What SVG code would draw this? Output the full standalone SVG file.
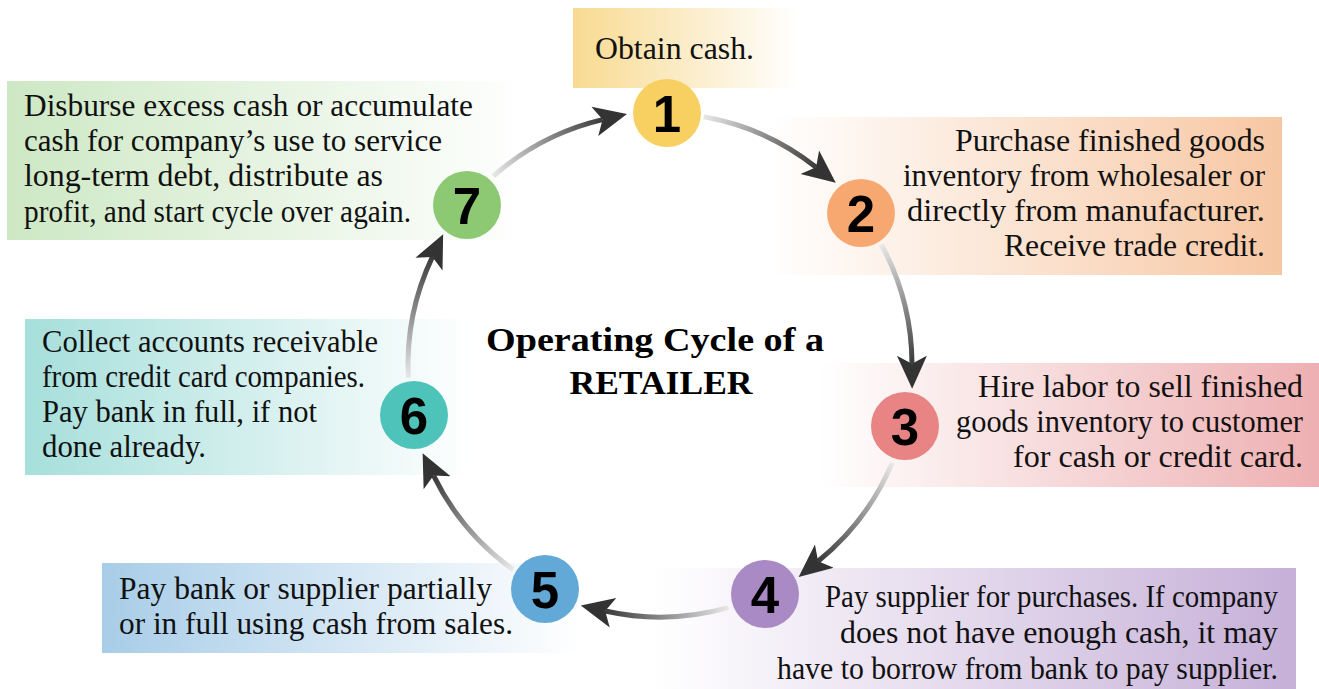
<svg xmlns="http://www.w3.org/2000/svg" width="1319" height="689" viewBox="0 0 1319 689">
<style>
.t{font-family:"Liberation Serif","Times New Roman",serif;font-size:31px;fill:#111}
.c{font-family:"Liberation Sans",Arial,sans-serif;font-size:51px;font-weight:bold;fill:#000;text-anchor:middle}
.ttl{font-family:"Liberation Serif","Times New Roman",serif;font-size:33px;font-weight:bold;fill:#000;text-anchor:middle}
.e{text-anchor:end}
.cn{fill:none;stroke-width:5}
</style>
<defs>
<linearGradient id="g1" x1="0" x2="1" y1="0" y2="0"><stop offset="0" stop-color="#F8DA91"/><stop offset="1" stop-color="#FFFFFF"/></linearGradient>
<linearGradient id="g2" x1="0" x2="1" y1="0" y2="0"><stop offset="0" stop-color="#FFFFFF"/><stop offset="1" stop-color="#F7C7A3"/></linearGradient>
<linearGradient id="g3" x1="0" x2="1" y1="0" y2="0"><stop offset="0" stop-color="#FFFFFF"/><stop offset="1" stop-color="#EEB0B2"/></linearGradient>
<linearGradient id="g4" x1="0" x2="1" y1="0" y2="0"><stop offset="0" stop-color="#FFFFFF"/><stop offset="1" stop-color="#C6B0D8"/></linearGradient>
<linearGradient id="g5" x1="0" x2="1" y1="0" y2="0"><stop offset="0" stop-color="#A8CDE8"/><stop offset="1" stop-color="#FFFFFF"/></linearGradient>
<linearGradient id="g6" x1="0" x2="1" y1="0" y2="0"><stop offset="0" stop-color="#A6DFDB"/><stop offset="1" stop-color="#FFFFFF"/></linearGradient>
<linearGradient id="g7" x1="0" x2="1" y1="0" y2="0"><stop offset="0" stop-color="#CDE8C4"/><stop offset="1" stop-color="#FFFFFF"/></linearGradient>
<linearGradient id="a1" gradientUnits="userSpaceOnUse" x1="703.8" y1="116.8" x2="816.1" y2="167.2"><stop offset="0" stop-color="#E8E8E8"/><stop offset="1" stop-color="#3A3A3A"/></linearGradient>
<linearGradient id="a2" gradientUnits="userSpaceOnUse" x1="881.3" y1="244.5" x2="912" y2="363.7"><stop offset="0" stop-color="#E8E8E8"/><stop offset="1" stop-color="#3A3A3A"/></linearGradient>
<linearGradient id="a3" gradientUnits="userSpaceOnUse" x1="892.2" y1="462.9" x2="818.1" y2="561.2"><stop offset="0" stop-color="#E8E8E8"/><stop offset="1" stop-color="#3A3A3A"/></linearGradient>
<linearGradient id="a4" gradientUnits="userSpaceOnUse" x1="728.2" y1="607.6" x2="605.2" y2="611"><stop offset="0" stop-color="#E8E8E8"/><stop offset="1" stop-color="#3A3A3A"/></linearGradient>
<linearGradient id="a5" gradientUnits="userSpaceOnUse" x1="512.9" y1="569.6" x2="433.6" y2="475.6"><stop offset="0" stop-color="#E8E8E8"/><stop offset="1" stop-color="#3A3A3A"/></linearGradient>
<linearGradient id="a6" gradientUnits="userSpaceOnUse" x1="408.3" y1="377.6" x2="432.4" y2="256.9"><stop offset="0" stop-color="#E8E8E8"/><stop offset="1" stop-color="#3A3A3A"/></linearGradient>
<linearGradient id="a7" gradientUnits="userSpaceOnUse" x1="493.3" y1="176.1" x2="602.6" y2="119.6"><stop offset="0" stop-color="#E8E8E8"/><stop offset="1" stop-color="#3A3A3A"/></linearGradient>
<marker id="ah" markerUnits="userSpaceOnUse" markerWidth="40" markerHeight="34" viewBox="0 -17 40 34" refX="8" refY="0" orient="auto">
<path d="M0,-15 L33,0 L0,15 L8,0 Z" fill="#333"/>
</marker>
</defs>
<rect width="1319" height="689" fill="#fff"/>

<g id="node1">
<rect x="573" y="8" width="225" height="80" fill="url(#g1)"/>
<text class="t" x="595" y="59" textLength="159" lengthAdjust="spacingAndGlyphs">Obtain cash.</text>
<circle cx="667" cy="113" r="34" fill="#F8D061"/>
<text class="c" x="667" y="131.5">1</text>
</g>

<g id="node2">
<rect x="768" y="117" width="514" height="158" fill="url(#g2)"/>
<text class="t e" x="1265" y="151" textLength="310" lengthAdjust="spacingAndGlyphs">Purchase finished goods</text>
<text class="t e" x="1265" y="186" textLength="362" lengthAdjust="spacingAndGlyphs">inventory from wholesaler or</text>
<text class="t e" x="1265" y="221" textLength="358" lengthAdjust="spacingAndGlyphs">directly from manufacturer.</text>
<text class="t e" x="1265" y="256" textLength="261" lengthAdjust="spacingAndGlyphs">Receive trade credit.</text>
<circle cx="861" cy="213" r="34" fill="#F6A870"/>
<text class="c" x="861" y="231.5">2</text>
</g>

<g id="node3">
<rect x="818" y="363" width="501" height="124" fill="url(#g3)"/>
<text class="t e" x="1303" y="397" textLength="325" lengthAdjust="spacingAndGlyphs">Hire labor to sell finished</text>
<text class="t e" x="1303" y="432" textLength="347" lengthAdjust="spacingAndGlyphs">goods inventory to customer</text>
<text class="t e" x="1303" y="467" textLength="290" lengthAdjust="spacingAndGlyphs">for cash or credit card.</text>
<circle cx="905" cy="426" r="34" fill="#E88483"/>
<text class="c" x="905" y="444.5">3</text>
</g>

<g id="node4">
<rect x="655" y="568" width="641" height="121" fill="url(#g4)"/>
<text class="t e" x="1278" y="607" textLength="453" lengthAdjust="spacingAndGlyphs">Pay supplier for purchases. If company</text>
<text class="t e" x="1278" y="643" textLength="438" lengthAdjust="spacingAndGlyphs">does not have enough cash, it may</text>
<text class="t e" x="1278" y="679" textLength="501" lengthAdjust="spacingAndGlyphs">have to borrow from bank to pay supplier.</text>
<circle cx="765" cy="594" r="34" fill="#A98AC4"/>
<text class="c" x="765" y="612.5">4</text>
</g>

<g id="node5">
<rect x="102" y="563" width="478" height="90" fill="url(#g5)"/>
<text class="t" x="119" y="599" textLength="373" lengthAdjust="spacingAndGlyphs">Pay bank or supplier partially</text>
<text class="t" x="119" y="634" textLength="394" lengthAdjust="spacingAndGlyphs">or in full using cash from sales.</text>
<circle cx="545" cy="589" r="34" fill="#63A9D8"/>
<text class="c" x="545" y="607.5">5</text>
</g>

<g id="node6">
<rect x="25" y="319" width="447" height="156" fill="url(#g6)"/>
<text class="t" x="42" y="352" textLength="336" lengthAdjust="spacingAndGlyphs">Collect accounts receivable</text>
<text class="t" x="42" y="387" textLength="323" lengthAdjust="spacingAndGlyphs">from credit card companies.</text>
<text class="t" x="42" y="422" textLength="275" lengthAdjust="spacingAndGlyphs">Pay bank in full, if not</text>
<text class="t" x="42" y="457" textLength="164" lengthAdjust="spacingAndGlyphs">done already.</text>
<circle cx="414" cy="415" r="34" fill="#4EC3B9"/>
<text class="c" x="414" y="433.5">6</text>
</g>

<g id="node7">
<rect x="7" y="81" width="518" height="159" fill="url(#g7)"/>
<text class="t" x="24" y="116" textLength="449" lengthAdjust="spacingAndGlyphs">Disburse excess cash or accumulate</text>
<text class="t" x="24" y="151" textLength="418" lengthAdjust="spacingAndGlyphs">cash for company’s use to service</text>
<text class="t" x="24" y="186" textLength="359" lengthAdjust="spacingAndGlyphs">long-term debt, distribute as</text>
<text class="t" x="24" y="222" textLength="387" lengthAdjust="spacingAndGlyphs">profit, and start cycle over again.</text>
<circle cx="467" cy="205" r="34" fill="#8DC873"/>
<text class="c" x="467" y="223.5">7</text>
</g>

<g id="title">
<text class="ttl" x="655" y="351" textLength="338" lengthAdjust="spacingAndGlyphs">Operating Cycle of a</text>
<text class="ttl" x="661" y="394" textLength="183" lengthAdjust="spacingAndGlyphs">RETAILER</text>
</g>

<g id="connectors">
<path class="cn" stroke="url(#a1)" marker-end="url(#ah)" d="M703.8,116.8 A252,252 0 0 1 816.1,167.2"/>
<path class="cn" stroke="url(#a2)" marker-end="url(#ah)" d="M881.3,244.5 A252,252 0 0 1 912,363.7"/>
<path class="cn" stroke="url(#a3)" marker-end="url(#ah)" d="M892.2,462.9 A252,252 0 0 1 818.1,561.2"/>
<path class="cn" stroke="url(#a4)" marker-end="url(#ah)" d="M728.2,607.6 A252,252 0 0 1 605.2,611"/>
<path class="cn" stroke="url(#a5)" marker-end="url(#ah)" d="M512.9,569.6 A252,252 0 0 1 433.6,475.6"/>
<path class="cn" stroke="url(#a6)" marker-end="url(#ah)" d="M408.3,377.6 A252,252 0 0 1 432.4,256.9"/>
<path class="cn" stroke="url(#a7)" marker-end="url(#ah)" d="M493.3,176.1 A252,252 0 0 1 602.6,119.6"/>
</g>
</svg>
